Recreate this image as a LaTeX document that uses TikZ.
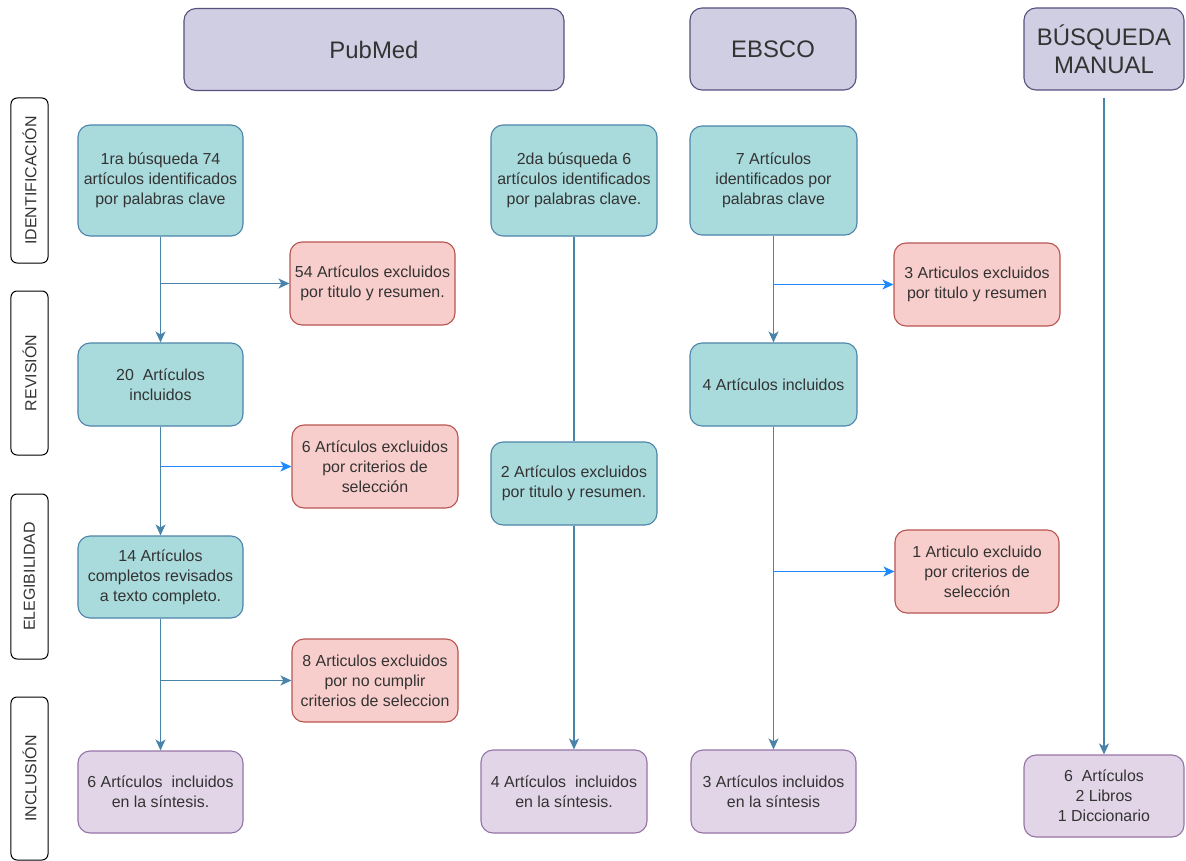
\documentclass[tikz,border=0pt]{standalone}
\usepackage{fontspec}
\setmainfont{Liberation Sans}
\usepackage{tikz}
\usetikzlibrary{arrows.meta}
\definecolor{hdrfill}{HTML}{D0CEE2}
\definecolor{hdrline}{HTML}{56517E}
\definecolor{tealfill}{HTML}{A9DADC}
\definecolor{tealline}{HTML}{4D84AA}
\definecolor{redfill}{HTML}{F8CECC}
\definecolor{redline}{HTML}{B85450}
\definecolor{purfill}{HTML}{E1D5E7}
\definecolor{purline}{HTML}{9673A6}
\definecolor{arrline}{HTML}{4A83AA}
\definecolor{arrblue}{HTML}{1E88FF}
\definecolor{txt}{HTML}{333333}

\tikzset{
  box/.style={rectangle,rounded corners=12bp,line width=1.1bp,align=center,inner sep=0pt,
    text=txt,font=\fontsize{16}{20}\selectfont,minimum width=166bp,minimum height=83bp},
  hdr/.style={box,fill=hdrfill,draw=hdrline,font=\fontsize{24}{28}\selectfont,minimum height=82bp},
  revbox/.style={box,fill=tealfill,draw=tealline},
  exclbox/.style={box,fill=redfill,draw=redline},
  inclbox/.style={box,fill=purfill,draw=purline},
  fase/.style={rectangle,rounded corners=6bp,draw=black,line width=1bp,fill=white,
    minimum width=37bp,inner sep=0pt,text=txt,font=\fontsize{16}{18}\selectfont},
  arr/.style={draw=arrline,line width=1.3bp,-{Stealth[length=11bp,width=10bp,inset=3bp]}},
  arrb/.style={arr,draw=arrblue},
  lin/.style={draw=arrline,line width=1.3bp}
}

\begin{document}
\begin{tikzpicture}[x=1bp,y=-1bp]
\useasboundingbox (0,0) rectangle (1186,861);

\node [hdr,minimum width=380bp] (pm) at (374,49.5) {PubMed};
\node [hdr] (eb) at (773,49) {EBSCO};
\node [hdr,minimum width=160bp] (bm) at (1104,49) {BÚSQUEDA\\MANUAL};

\node [fase,minimum height=165bp] (f1) at (29.5,180.5) {\rotatebox{90}{IDENTIFICACIÓN}};
\node [fase,minimum height=164bp] (f2) at (29.5,373) {\rotatebox{90}{REVISIÓN}};
\node [fase,minimum height=165bp] (f3) at (29.5,576.5) {\rotatebox{90}{ELEGIBILIDAD}};
\node [fase,minimum height=163bp] (f4) at (29.5,778.5) {\rotatebox{90}{INCLUSIÓN}};

\node [revbox,minimum width=165bp,minimum height=111bp] (p1) at (160.5,180.5) {1ra búsqueda 74\\artículos identificados\\por palabras clave};
\node [revbox,minimum width=165bp] (p2) at (160.5,384.5) {20\ \ Artículos\\incluidos};
\node [revbox,minimum width=165bp,minimum height=82bp] (p3) at (160.5,577) {14 Artículos\\completos revisados\\a texto completo.};
\node [inclbox,minimum width=165bp,minimum height=82bp] (p4) at (160.5,792) {6 Artículos\ \ incluidos\\en la síntesis.};

\node [exclbox,minimum width=165bp] (x1) at (372.5,283.5) {54 Artículos excluidos\\por titulo y resumen.};
\node [exclbox] (x2) at (375,466.5) {6 Artículos excluidos\\por criterios de\\selección};
\node [exclbox] (x3) at (375,680.5) {8 Articulos excluidos\\por no cumplir\\criterios de seleccion};

\node [revbox,minimum height=111bp] (s1) at (574,180.5) {2da búsqueda 6\\artículos identificados\\por palabras clave.};
\node [revbox] (s2) at (574,483.5) {2 Artículos excluidos\\por titulo y resumen.};
\node [inclbox] (s3) at (564,791.5) {4 Artículos\ \ incluidos\\en la síntesis.};

\node [revbox,minimum width=167bp,minimum height=109bp] (e1) at (773.5,180.5) {7 Artículos\\identificados por\\palabras clave};
\node [revbox,minimum width=167bp] (e2) at (773.5,384.5) {4 Artículos incluidos};
\node [inclbox,minimum width=165bp] (e3) at (773.5,791.5) {3 Artículos incluidos\\en la síntesis};

\node [exclbox] (y1) at (977,284.5) {3 Articulos excluidos\\por titulo y resumen};
\node [exclbox,minimum width=164bp] (y2) at (977,571.5) {1 Articulo excluido\\por criterios de\\selección};

\node [inclbox,minimum width=160bp,minimum height=82bp] (m1) at (1104,796) {6\ \ Artículos\\2 Libros\\1 Diccionario};

\draw [arr] (p1.south) -- (p2.north);
\draw [arr] (p1.south |- x1.west) -- (x1.west);
\draw [arr] (p2.south) -- (p3.north);
\draw [arrb] (p2.south |- x2.west) -- (x2.west);
\draw [arr] (p3.south) -- (p4.north);
\draw [arr] (p3.south |- x3.west) -- (x3.west);

\draw [lin] (s1.south) -- (s2.north);
\draw [arr] (s2.south) -- (s2.south |- s3.north);

\draw [arr] (e1.south) -- (e2.north);
\draw [arrb] (e1.south |- y1.west) -- (y1.west);
\draw [arr] (e2.south) -- (e3.north);
\draw [arrb] (e2.south |- y2.west) -- (y2.west);

\draw [arr,shorten <=7bp] (bm.south) -- (m1.north);
\end{tikzpicture}
\end{document}
